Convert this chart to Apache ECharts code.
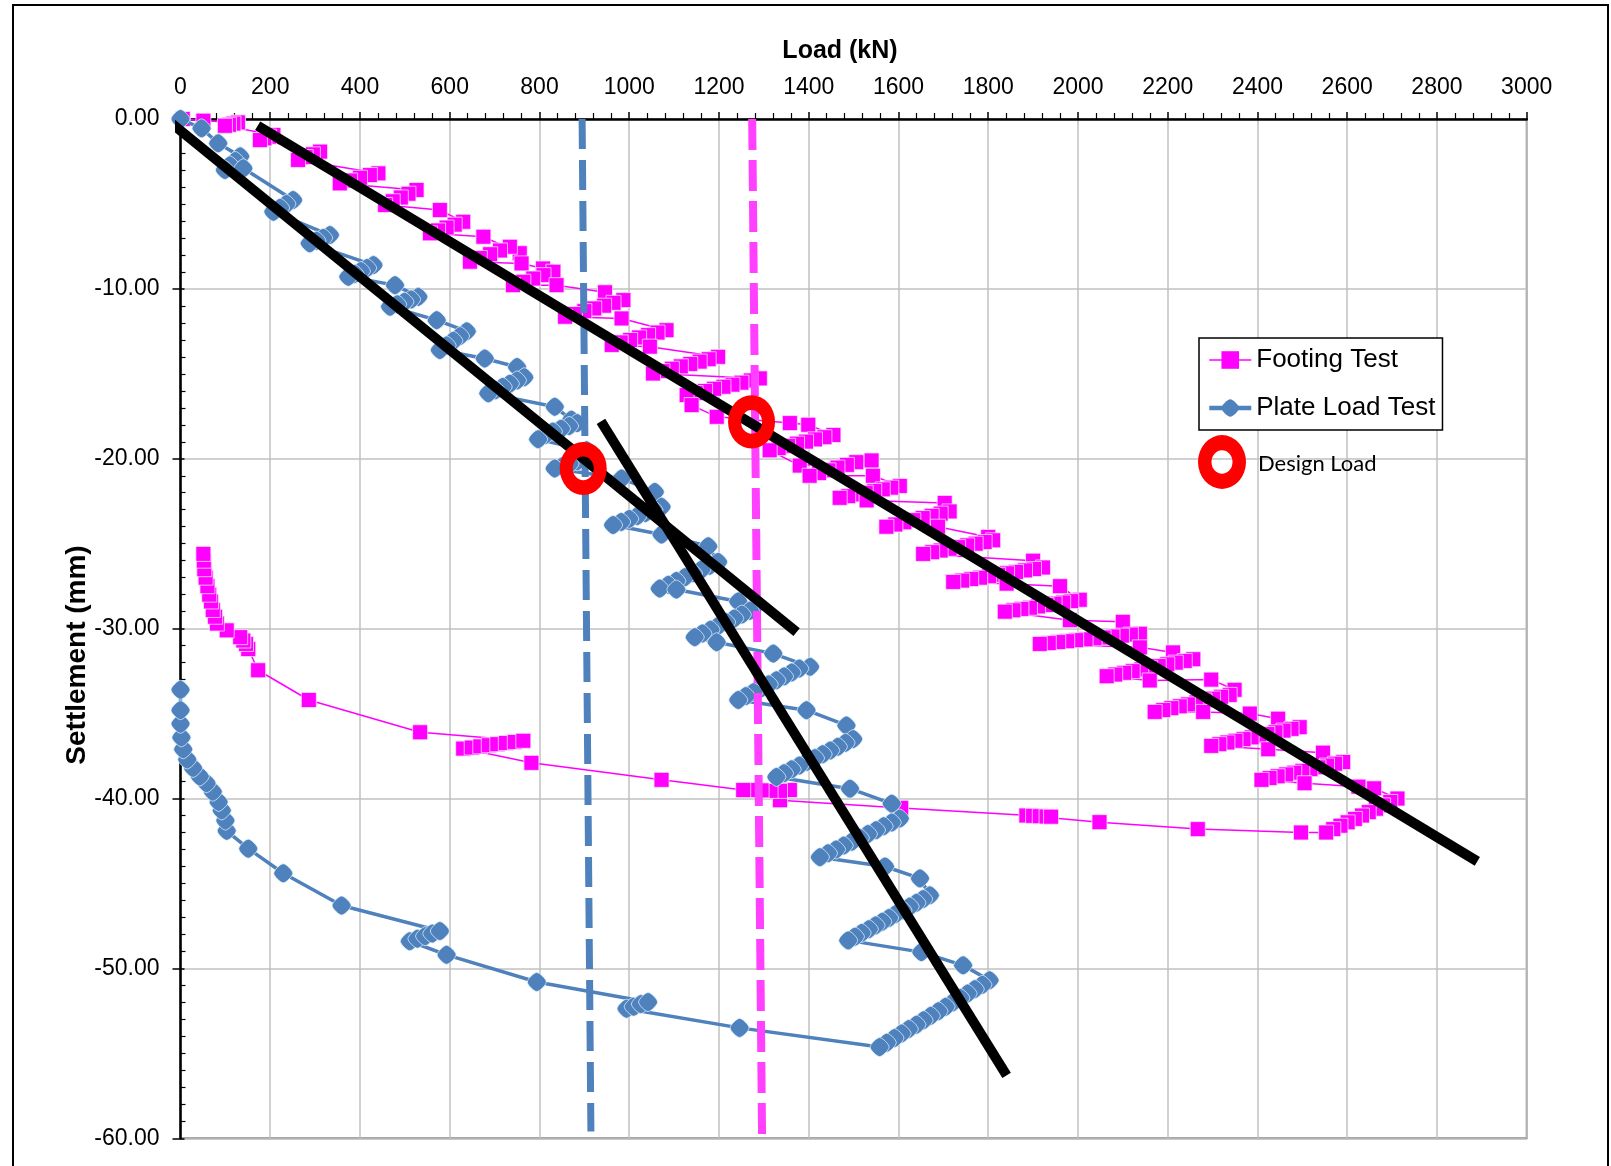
<!DOCTYPE html>
<html><head><meta charset="utf-8">
<script src="https://cdn.jsdelivr.net/npm/echarts@6/dist/echarts.min.js"></script>
<style>html,body{margin:0;padding:0;background:#fff}#c{width:1611px;height:1166px}</style>
</head><body><div id="c"></div>
<script>
// ---- axis ticks ----
const xMin = 0, xMax = 3000, xStep = 200;
const yMin = -60, yMax = 0, yStep = 10;

// ---- Footing Test (load kN, settlement mm) ----
const footingTest = [
[5,0],[51,-0.1],
[128,-0.2],[118,-0.27],[108,-0.34],[99,-0.4],
[207,-0.94],[197,-1.04],[187,-1.14],[177,-1.24],
[311,-1.92],[295,-2.08],[279,-2.24],[262,-2.41],
[441,-3.2],[422,-3.3],[400,-3.46],[378,-3.62],[355,-3.79],
[526,-4.18],[508,-4.4],[491,-4.62],[473,-4.84],[456,-5.06],[578,-5.36],
[630,-6.05],[611,-6.22],[593,-6.39],[574,-6.56],[556,-6.73],[675,-6.93],
[756,-7.9],[734,-7.52],[712,-7.74],[690,-7.96],[667,-8.18],[645,-8.4],[760,-8.5],
[808,-8.8],[831,-8.99],[809,-9.19],[786,-9.39],[764,-9.58],[741,-9.78],[838,-9.78],
[946,-10.2],[987,-10.66],[965,-10.82],[944,-10.99],[922,-11.15],[900,-11.31],[879,-11.48],[857,-11.64],[983,-11.74],
[1083,-12.43],[1063,-12.57],[1042,-12.72],[1022,-12.86],[1002,-13.01],[981,-13.15],[961,-13.3],[1046,-13.4],
[1198,-14.0],[1177,-14.14],[1157,-14.28],[1136,-14.42],[1115,-14.56],[1095,-14.7],[1074,-14.84],[1053,-14.98],
[1291,-15.27],[1271,-15.39],[1250,-15.52],[1230,-15.64],[1210,-15.76],[1189,-15.88],[1169,-16.01],[1148,-16.13],[1128,-16.25],[1139,-16.84],[1195,-17.53],
[1358,-17.9],[1399,-18.0],[1455,-18.6],[1435,-18.73],[1414,-18.86],[1394,-18.99],[1374,-19.11],[1354,-19.24],[1333,-19.37],[1313,-19.5],[1380,-20.4],
[1540,-20.1],[1506,-20.2],[1485,-20.36],[1464,-20.52],[1444,-20.68],[1423,-20.84],[1402,-21.0],
[1543,-21.0],[1603,-21.6],[1584,-21.7],[1565,-21.8],[1546,-21.9],[1527,-22.0],[1507,-22.1],[1488,-22.2],[1469,-22.3],[1529,-22.45],
[1703,-22.6],[1714,-23.1],[1694,-23.23],[1674,-23.36],[1654,-23.49],[1633,-23.61],[1613,-23.74],[1593,-23.87],[1573,-24.0],[1688,-24.0],
[1800,-24.6],[1811,-24.8],[1792,-24.9],[1772,-25.0],[1753,-25.1],[1733,-25.2],[1714,-25.3],[1694,-25.4],[1675,-25.5],[1655,-25.6],
[1900,-26.0],[1922,-26.4],[1902,-26.49],[1882,-26.57],[1862,-26.66],[1842,-26.74],[1822,-26.83],[1802,-26.91],[1782,-27.0],[1762,-27.08],[1742,-27.17],[1722,-27.25],[1841,-27.35],
[1960,-27.5],[2004,-28.3],[1985,-28.38],[1967,-28.46],[1948,-28.53],[1930,-28.61],[1911,-28.69],[1893,-28.77],[1874,-28.84],[1856,-28.92],[1837,-29.0],[1982,-29.5],
[2100,-29.6],[2138,-30.3],[2118,-30.35],[2098,-30.41],[2077,-30.46],[2057,-30.52],[2037,-30.57],[2017,-30.63],[1996,-30.68],[1976,-30.74],[1956,-30.79],[1935,-30.85],[1915,-30.9],[2138,-31.1],
[2212,-31.4],[2257,-31.8],[2238,-31.9],[2218,-32.0],[2199,-32.1],[2180,-32.2],[2161,-32.3],[2141,-32.4],[2122,-32.5],[2103,-32.6],[2083,-32.7],[2064,-32.8],[2160,-33.05],
[2297,-33.0],[2349,-33.6],[2338,-33.9],[2319,-34.01],[2301,-34.12],[2282,-34.23],[2264,-34.34],[2245,-34.46],[2227,-34.57],[2208,-34.68],[2190,-34.79],[2171,-34.9],[2279,-34.9],
[2383,-35.0],[2446,-35.3],[2494,-35.8],[2476,-35.9],[2458,-36.0],[2440,-36.1],[2422,-36.2],[2404,-36.3],[2387,-36.4],[2369,-36.5],[2351,-36.6],[2333,-36.7],[2315,-36.8],[2297,-36.9],[2424,-37.1],
[2546,-37.3],[2591,-37.85],[2573,-37.95],[2555,-38.06],[2536,-38.16],[2518,-38.27],[2500,-38.37],[2482,-38.48],[2464,-38.58],[2445,-38.69],[2427,-38.79],[2409,-38.9],[2505,-39.1],
[2625,-39.3],[2660,-39.4],[2712,-40.0],[2696,-40.2],[2680,-40.4],[2664,-40.6],[2648,-40.8],[2633,-41.0],[2617,-41.2],[2601,-41.4],[2585,-41.6],[2569,-41.8],[2553,-42.0],
[2497,-42.0],[2267,-41.8],[2048,-41.39],[1885,-41.0],[1900,-41.02],[1915,-41.04],[1930,-41.06],[1940,-41.07],[1606,-40.55],
[1336,-40.1],[1358,-39.5],[1336,-39.55],[1315,-39.55],[1295,-39.52],[1275,-39.5],[1254,-39.5],[1072,-38.9],[782,-37.9],
[630,-37.06],[649,-37.0],[668,-36.93],[687,-36.86],[706,-36.8],[725,-36.73],[745,-36.67],[764,-36.6],
[534,-36.1],[286,-34.2],[173,-32.45],[151,-31.2],[146,-30.9],[140,-30.7],[133,-30.5],[103,-30.1],[81,-29.7],
[77,-29.3],[72,-28.9],[68,-28.4],[64,-28.0],[60,-27.5],[56,-27.0],[53,-26.5],[52,-26.0],[51,-25.6]
];

// ---- Plate Load Test (load kN, settlement mm) ----
const plateLoadTest = [
[0,0],[47,-0.55],[84,-1.43],
[133,-2.2],[122,-2.47],[110,-2.73],[99,-3.0],[140,-2.9],
[251,-4.77],[236,-5.0],[222,-5.23],[207,-5.46],
[333,-6.83],[318,-7.0],[303,-7.16],[288,-7.32],
[430,-8.6],[416,-8.77],[402,-8.95],[388,-9.12],[374,-9.29],[478,-9.78],
[530,-10.47],[514,-10.62],[499,-10.76],[483,-10.91],[467,-11.05],[571,-11.84],
[638,-12.5],[623,-12.78],[608,-13.05],[593,-13.33],[578,-13.6],[678,-14.1],
[750,-14.6],[766,-15.2],[750,-15.39],[734,-15.58],[718,-15.77],[702,-15.96],[686,-16.15],[834,-16.94],
[871,-17.7],[884,-17.9],[866,-18.07],[848,-18.23],[830,-18.4],[813,-18.6],[797,-18.85],
[905,-19.5],[918,-19.85],[901,-20.0],[884,-20.15],[867,-20.3],[851,-20.44],[834,-20.57],[983,-21.16],
[1057,-21.95],[1072,-22.83],[1054,-23.01],[1036,-23.19],[1018,-23.37],[1000,-23.54],[982,-23.72],[964,-23.9],[1072,-24.46],
[1176,-25.15],[1198,-26.07],[1179,-26.3],[1161,-26.52],[1142,-26.74],[1124,-26.97],[1105,-27.19],[1087,-27.42],[1068,-27.64],[1105,-27.7],
[1243,-28.4],[1276,-28.8],[1269,-28.95],[1251,-29.17],[1234,-29.4],[1216,-29.62],[1198,-29.84],[1181,-30.06],[1163,-30.28],[1146,-30.5],[1195,-30.8],
[1321,-31.47],[1403,-32.25],[1379,-32.35],[1362,-32.58],[1345,-32.81],[1328,-33.04],[1311,-33.28],[1294,-33.51],[1277,-33.74],[1260,-33.97],[1243,-34.2],[1395,-34.8],
[1484,-35.7],[1499,-36.5],[1482,-36.72],[1465,-36.95],[1448,-37.17],[1431,-37.39],[1414,-37.62],[1396,-37.84],[1379,-38.06],[1362,-38.28],[1345,-38.51],[1328,-38.73],[1492,-39.42],
[1585,-40.3],[1603,-41.18],[1585,-41.41],[1567,-41.63],[1550,-41.86],[1532,-42.09],[1514,-42.32],[1496,-42.54],[1478,-42.77],[1461,-43.0],[1443,-43.22],[1425,-43.45],[1570,-44.0],
[1648,-44.7],[1670,-45.7],[1655,-45.92],[1640,-46.14],[1625,-46.36],[1609,-46.58],[1594,-46.8],[1579,-47.03],[1564,-47.25],[1549,-47.47],[1534,-47.69],[1518,-47.91],[1503,-48.13],[1488,-48.35],[1651,-49.04],
[1744,-49.82],[1803,-50.7],[1787,-50.96],[1770,-51.22],[1754,-51.48],[1738,-51.74],[1721,-52.0],[1705,-52.26],[1689,-52.52],[1672,-52.79],[1656,-53.05],[1640,-53.31],[1623,-53.57],[1607,-53.83],[1591,-54.1],[1574,-54.37],[1558,-54.63],
[1246,-53.5],[994,-52.37],[1010,-52.25],[1026,-52.1],[1042,-51.98],[794,-50.8],[593,-49.2],
[511,-48.4],[528,-48.25],[545,-48.1],[561,-47.95],[578,-47.8],[359,-46.3],[229,-44.4],[151,-42.95],[103,-41.9],
[100,-41.3],[92,-40.7],[85,-40.2],[72,-39.6],[58,-39.1],[43,-38.7],[28,-38.2],[15,-37.7],[6,-37.1],[2,-36.4],[0,-35.6],[0,-34.8],[0,-33.6]
];

// ---- drawn-on lines ----
const trendFooting = [[172,-0.4],[2890,-43.7]];
const trendPlateUpper = [[-34,0.05],[1373,-30.2]];
const trendPlateLower = [[937,-17.8],[1841,-56.3]];
const designLinePlate = [[895,0],[914.6,-59.6]];
const designLineFooting = [[1274,0],[1296,-59.8]];
const designLoadPoints = [[897.5,-20.57],[1272.6,-17.83]];

const FONT = "'Liberation Sans', Arial, sans-serif";
const diamondPath = 'path://M10,0 C13,0 20,7 20,10 C20,13 13,20 10,20 C7,20 0,13 0,10 C0,7 7,0 10,0 Z';

const chart = echarts.init(document.getElementById('c'), null, {renderer:'canvas'});
const baseGraphics = [
  {type:'rect', z:-10, silent:true, shape:{x:13,y:5,width:1595,height:1300}, style:{fill:'none', stroke:'#000', lineWidth:2}},
  {type:'text', silent:true, x:840, y:51, style:{text:'Load (kN)', fill:'#000', font:"bold 25px 'Liberation Sans', Arial", align:'center', verticalAlign:'middle', textAlign:'center', textVerticalAlign:'middle'}},
  {type:'text', silent:true, x:77, y:655, rotation:Math.PI/2, style:{text:'Settlement (mm)', fill:'#000', font:"bold 28px 'Liberation Sans', Arial", align:'center', verticalAlign:'middle', textAlign:'center', textVerticalAlign:'middle'}},
  {type:'ring', silent:true, z:20, x:1222, y:462, scaleY:1.12, shape:{cx:0, cy:0, r:24, r0:10.5}, style:{fill:'#FF0000'}},
  {type:'text', silent:true, z:20, x:1258, y:464, style:{text:'Design Load', fill:'#000', font:"22px Lato, 'Open Sans', sans-serif", align:'left', verticalAlign:'middle', textAlign:'left', textVerticalAlign:'middle'}}
];
chart.setOption({
  animation:false,
  backgroundColor:'#fff',
  textStyle:{fontFamily:FONT},
  grid:{left:180.5, right:84.3, top:119, bottom:27.7, show:true, borderColor:'#8a8a8a', borderWidth:2, backgroundColor:'#fff'},
  xAxis:{
    type:'value', position:'top', min:xMin, max:xMax, interval:xStep,
    axisLine:{show:true, onZero:false, lineStyle:{color:'#000', width:2.5}},
    axisTick:{show:true, inside:false, length:7, lineStyle:{color:'#000', width:1.5}},
    minorTick:{show:true, splitNumber:5, length:6, lineStyle:{color:'#000', width:1.2}},
    axisLabel:{fontSize:23, color:'#000', margin:20, fontFamily:FONT, formatter:v=>String(v)},
    splitLine:{show:true, lineStyle:{color:'#c0c0c0', width:1.5}}
  },
  yAxis:[{
    type:'value', min:yMin, max:yMax, interval:yStep,
    axisLine:{show:true, onZero:false, lineStyle:{color:'#000', width:2.5}},
    axisTick:{show:true, inside:true, length:4, lineStyle:{color:'#000', width:1.5}},
    minorTick:{show:true, splitNumber:10, length:5, lineStyle:{color:'#000', width:1.2}},
    axisLabel:{fontSize:23, color:'#000', margin:21, fontFamily:FONT, formatter:v=>v.toFixed(2)},
    splitLine:{show:true, lineStyle:{color:'#c0c0c0', width:1.5}}
  },{
    type:'value', min:yMin, max:yMax, interval:yStep, position:'left',
    axisLine:{show:false}, axisLabel:{show:false}, splitLine:{show:false},
    axisTick:{show:true, inside:false, length:8, lineStyle:{color:'#000', width:1.5}}
  }],
  legend:{
    data:[
      {name:'Footing Test', itemStyle:{borderWidth:0}, lineStyle:{width:1.5}},
      {name:'Plate Load Test', itemStyle:{borderWidth:0}, lineStyle:{width:4.5}}
    ],
    orient:'vertical', left:1199, top:338,
    backgroundColor:'#fff', borderColor:'#000', borderWidth:1.5, borderRadius:0,
    padding:[7,7,7,8], itemGap:18, itemWidth:42, itemHeight:22,
    textStyle:{fontSize:26, color:'#000', fontFamily:FONT, lineHeight:30}
  },
  series:[
    {name:'Footing Test', type:'line', data:footingTest, z:3, showAllSymbol:true,
     symbol:'rect', symbolSize:15,
     lineStyle:{color:'#FF00FF', width:1.5},
     itemStyle:{color:'#FF00FF', borderColor:'rgba(255,235,255,0.95)', borderWidth:0.8}},
    {name:'Plate Load Test', type:'line', data:plateLoadTest, z:4, showAllSymbol:true,
     symbol:diamondPath, symbolSize:19,
     lineStyle:{color:'#4F81BD', width:3.5},
     itemStyle:{color:'#4F81BD', borderColor:'rgba(225,245,255,0.95)', borderWidth:0.8}},
    {name:'dashPlate', type:'line', data:designLinePlate, symbol:'none', z:5, silent:true,
     lineStyle:{color:'#4F81BD', width:7, type:[30,11], cap:'butt'}},
    {name:'dashFooting', type:'line', data:designLineFooting, symbol:'none', z:5, silent:true,
     lineStyle:{color:'#FF40FF', width:8, type:[31,10], cap:'butt'}},
    {name:'t1', type:'line', data:trendFooting, symbol:'none', z:6, silent:true, clip:false,
     lineStyle:{color:'#000', width:10}},
    {name:'t2', type:'line', data:trendPlateUpper, symbol:'none', z:6, silent:true, clip:false,
     lineStyle:{color:'#000', width:10}},
    {name:'t3', type:'line', data:trendPlateLower, symbol:'none', z:6, silent:true, clip:false,
     lineStyle:{color:'#000', width:10}}
  ],
  graphic:baseGraphics
});
// design-load rings placed through the chart's own scales
const ringGraphics = designLoadPoints.map(p => {
  const px = chart.convertToPixel({gridIndex:0}, p);
  return {type:'ring', silent:true, z:50, x:px[0], y:px[1], scaleY:1.13,
          shape:{cx:0, cy:0, r:23.5, r0:10.5}, style:{fill:'#FF0000'}};
});
chart.setOption({graphic: baseGraphics.concat(ringGraphics)}, {replaceMerge:['graphic']});
</script>
</body></html>
